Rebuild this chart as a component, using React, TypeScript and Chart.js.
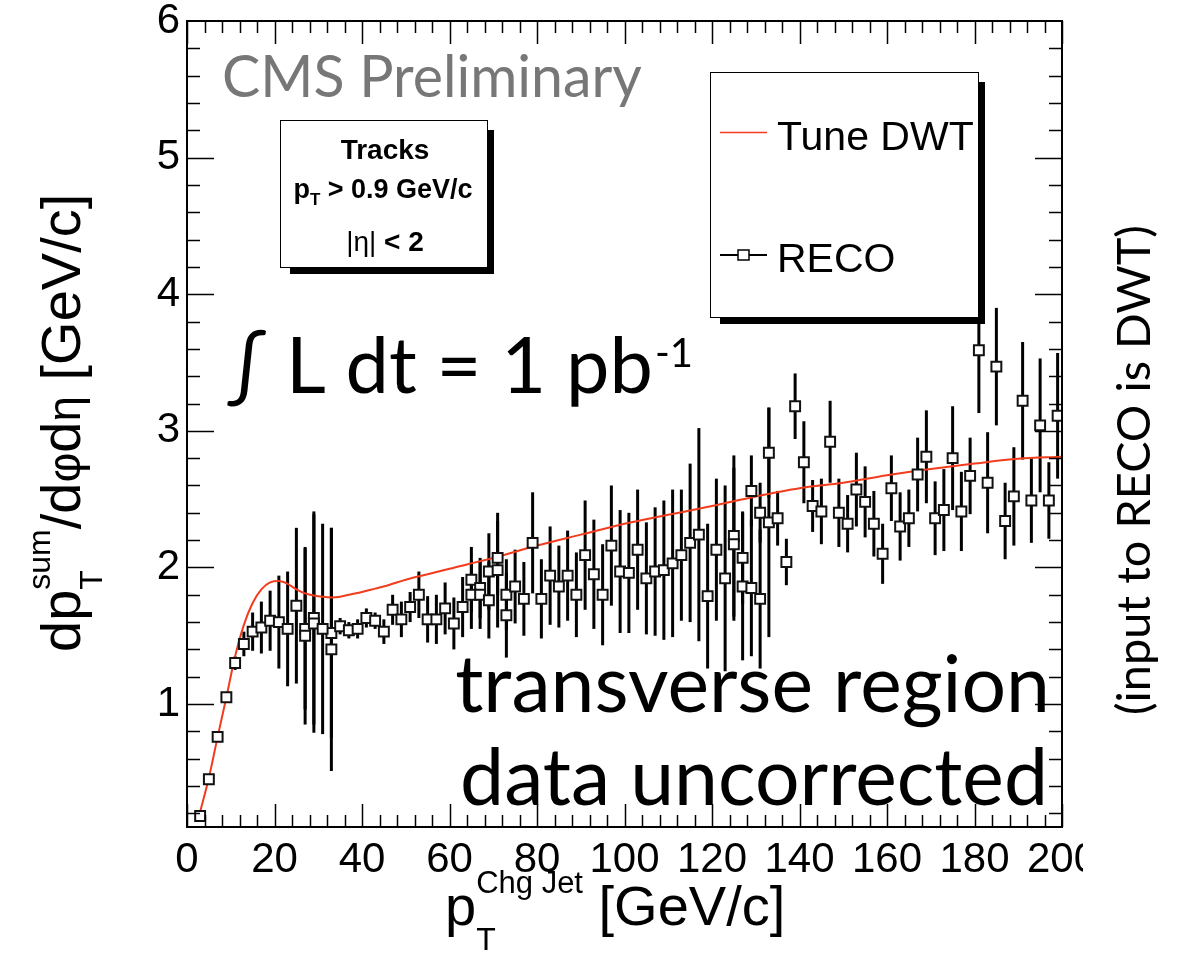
import React, { useEffect, useRef } from "react";
import { Chart, registerables } from "chart.js";

Chart.register(...registerables);

// ---------- data ----------
const X_TICKS = [0, 20, 40, 60, 80, 100, 120, 140, 160, 180, 200];
const Y_TICKS = [1, 2, 3, 4, 5, 6];

const RECO_X = [
  3, 5, 7, 9, 11, 13, 15, 17, 19, 21, 23, 25, 27, 29, 31, 33, 35, 37, 39, 41,
  43, 45, 47, 49, 51, 53, 55, 57, 59, 61, 63, 65, 67, 69, 71, 73, 75, 77, 79, 81,
  83, 85, 87, 89, 91, 93, 95, 97, 99, 101, 103, 105, 107, 109, 111, 113, 115, 117, 119, 121,
  123, 125, 127, 129, 131, 133, 135, 137, 139, 141, 143, 145, 147, 149, 151, 153, 155, 157, 159, 161,
  163, 165, 167, 169, 171, 173, 175, 177, 179, 181, 183, 185, 187, 189, 191, 193, 195, 197, 199,
];
const RECO_Y = [
  0.18, 0.45, 0.76, 1.05, 1.3, 1.44, 1.53, 1.56, 1.61, 1.6, 1.55, 1.72, 1.5, 1.59, 1.55, 1.4, 1.57, 1.54, 1.55, 1.63,
  1.61, 1.53, 1.69, 1.62, 1.71, 1.8, 1.62, 1.62, 1.7, 1.59, 1.71, 1.8, 1.8, 1.76, 1.98, 1.65, 1.86, 1.77, 2.18, 1.77,
  1.94, 1.86, 1.94, 1.8, 2.09, 1.95, 1.8, 2.16, 1.97, 1.96, 2.13, 1.92, 1.97, 1.98, 2.03, 2.09, 2.18, 2.24, 1.79, 2.13,
  1.92, 2.17, 1.86, 1.85, 1.77, 2.33, 2.36, 2.04, 3.18, 2.77, 2.45, 2.41, 2.92, 2.4, 2.32, 2.57, 2.48, 2.32, 2.1, 2.58,
  2.3, 2.36, 2.68, 2.81, 2.36, 2.42, 2.8, 2.41, 2.67, 3.59, 2.62, 3.47, 2.34, 2.52, 3.22, 2.49, 3.04, 2.49, 3.11,
];
const RECO_ERR = [
  0, 0, 0, 0, 0.05, 0.09, 0.14, 0.19, 0.22, 0.34, 0.42, 0.57, 0.65, 0.8, 0.77, 0.89, 0.06, 0.06, 0.07, 0.07,
  0.06, 0.09, 0.11, 0.13, 0.11, 0.17, 0.17, 0.18, 0.19, 0.19, 0.22, 0.25, 0.25, 0.28, 0.42, 0.31, 0.27, 0.27, 0.37, 0.29,
  0.36, 0.3, 0.33, 0.31, 0.4, 0.4, 0.37, 0.44, 0.45, 0.44, 0.44, 0.41, 0.47, 0.51, 0.54, 0.48, 0.58, 0.78, 0.53, 0.52,
  0.68, 0.56, 0.54, 0.5, 0.51, 0.84, 0.2, 0.17, 0.24, 0.3, 0.19, 0.24, 0.3, 0.25, 0.21, 0.27, 0.26, 0.24, 0.22, 0.24,
  0.25, 0.21, 0.27, 0.34, 0.27, 0.3, 0.38, 0.29, 0.28, 0.46, 0.37, 0.43, 0.28, 0.36, 0.43, 0.31, 0.49, 0.28, 0.46,
];

// bins where a second, overlapping RECO marker is visible
const RECO2_X = [27, 29, 33, 65, 67, 69, 71, 73, 125, 127, 129, 131, 133];
const RECO2_Y = [1.55, 1.63, 1.52, 1.91, 1.85, 1.97, 2.07, 1.8, 2.23, 2.07, 2.56, 2.4, 2.84];
const RECO2_ERR = [0.59, 0.78, 0.77, 0.24, 0.22, 0.28, 0.27, 0.26, 0.59, 0.34, 0.26, 0.22, 0.33];

const DWT_X = [
  3, 5, 7, 9, 11, 13, 15, 17, 19, 21, 23, 25, 27, 29, 31, 33, 35, 37, 40, 43,
  46, 50, 55, 60, 70, 80, 90, 100, 110, 120, 130, 140, 150, 160, 170, 180, 190, 200,
];
const DWT_Y = [
  0.21, 0.46, 0.76, 1.05, 1.35, 1.58, 1.74, 1.84, 1.89, 1.9, 1.88, 1.84, 1.81, 1.795, 1.785, 1.78, 1.785, 1.8, 1.82, 1.845,
  1.87, 1.91, 1.95, 1.99, 2.07, 2.16, 2.24, 2.32, 2.385, 2.45, 2.52, 2.58, 2.62, 2.675, 2.72, 2.76, 2.795, 2.81,
];

const ROOT_FONT = '"Liberation Sans", Arial, Helvetica, sans-serif';
const GILL_FONT = 'Lato, "Open Sans", sans-serif';
const RED = "#f23c1e";

type Seg = { text: string; size: number; dy?: number; bold?: boolean; stackWith?: Seg };

function drawRich(ctx: CanvasRenderingContext2D, segs: Seg[], x: number, y: number, family: string) {
  let cx = x;
  for (const s of segs) {
    ctx.font = `${s.bold ? "bold " : ""}${s.size}px ${family}`;
    ctx.fillText(s.text, cx, y + (s.dy || 0));
    let w = ctx.measureText(s.text).width;
    if (s.stackWith) {
      const t = s.stackWith;
      ctx.font = `${t.bold ? "bold " : ""}${t.size}px ${family}`;
      ctx.fillText(t.text, cx, y + (t.dy || 0));
      w = Math.max(w, ctx.measureText(t.text).width);
    }
    cx += w;
  }
  return cx - x;
}

function measureRich(ctx: CanvasRenderingContext2D, segs: Seg[], family: string) {
  let w = 0;
  for (const s of segs) {
    ctx.font = `${s.bold ? "bold " : ""}${s.size}px ${family}`;
    let sw = ctx.measureText(s.text).width;
    if (s.stackWith) {
      const t = s.stackWith;
      ctx.font = `${t.bold ? "bold " : ""}${t.size}px ${family}`;
      sw = Math.max(sw, ctx.measureText(t.text).width);
    }
    w += sw;
  }
  return w;
}

function fitSize(ctx: CanvasRenderingContext2D, text: string, family: string, target: number, weight = "") {
  ctx.font = `${weight} 100px ${family}`;
  const w = ctx.measureText(text).width;
  return (100 * target) / w;
}

function shadowBox(ctx: CanvasRenderingContext2D, x0: number, y0: number, x1: number, y1: number) {
  ctx.fillStyle = "#000";
  ctx.fillRect(x0 + 10, y0 + 10, x1 - x0 - 3, y1 - y0 - 3);
  ctx.fillStyle = "#fff";
  ctx.fillRect(x0, y0, x1 - x0, y1 - y0);
  ctx.strokeStyle = "#000";
  ctx.lineWidth = 1;
  ctx.strokeRect(x0 + 0.5, y0 + 0.5, x1 - x0, y1 - y0);
}

const errorBarPlugin = {
  id: "errorBars",
  beforeDatasetsDraw(chart: any) {
    const { ctx, chartArea: a } = chart;
    const xs = chart.scales.x;
    const ys = chart.scales.y;
    ctx.save();
    ctx.beginPath();
    ctx.rect(a.left, a.top, a.right - a.left, a.bottom - a.top);
    ctx.clip();
    ctx.strokeStyle = "#000";
    ctx.lineWidth = 3;
    const draw = (X: number[], Y: number[], E: number[]) => {
      X.forEach((x, i) => {
        if (!E[i]) return;
        const px = xs.getPixelForValue(x);
        ctx.beginPath();
        ctx.moveTo(px, ys.getPixelForValue(Y[i] - E[i]));
        ctx.lineTo(px, ys.getPixelForValue(Y[i] + E[i]));
        ctx.stroke();
      });
    };
    draw(RECO_X, RECO_Y, RECO_ERR);
    draw(RECO2_X, RECO2_Y, RECO2_ERR);
    ctx.restore();
  },
};

const framePlugin = {
  id: "rootFrame",
  afterDatasetsDraw(chart: any) {
    const { ctx, chartArea: a } = chart;
    const xs = chart.scales.x;
    const ys = chart.scales.y;
    ctx.save();
    ctx.strokeStyle = "#000";
    ctx.lineWidth = 1.5;
    const line = (x0: number, y0: number, x1: number, y1: number) => {
      ctx.beginPath();
      ctx.moveTo(x0, y0);
      ctx.lineTo(x1, y1);
      ctx.stroke();
    };
    // x ticks (major every 20, minor every 4)
    for (let v = 0; v <= 200; v += 4) {
      const px = Math.round(xs.getPixelForValue(v)) + 0.5;
      const len = X_TICKS.includes(v) ? 23 : 12;
      line(px, a.bottom, px, a.bottom - len);
      line(px, a.top, px, a.top + len);
    }
    // y ticks (major every 1, minor every 0.2)
    for (let k = 1; k < 30; k++) {
      const v = k * 0.2;
      const py = Math.round(ys.getPixelForValue(v)) + 0.5;
      const major = Math.abs(v - Math.round(v)) < 1e-6;
      const len = major ? 27 : 13;
      line(a.left, py, a.left + len, py);
      line(a.right, py, a.right - len, py);
    }
    ctx.lineWidth = 2;
    ctx.strokeRect(a.left, a.top, a.right - a.left, a.bottom - a.top);
    ctx.restore();
  },
  afterDraw(chart: any) {
    const ctx: CanvasRenderingContext2D = chart.ctx;
    ctx.save();
    ctx.textAlign = "left";
    ctx.textBaseline = "alphabetic";

    // CMS Preliminary
    ctx.fillStyle = "#777";
    let s = fitSize(ctx, "CMS Preliminary", GILL_FONT, 420);
    ctx.font = `${s}px ${GILL_FONT}`;
    ctx.fillText("CMS Preliminary", 222, 97);

    // integrated luminosity
    ctx.fillStyle = "#000";
    const lum = "\u222B L dt = 1 pb";
    s = fitSize(ctx, lum, GILL_FONT, 426);
    ctx.font = `${s}px ${GILL_FONT}`;
    ctx.fillText(lum, 227, 393);
    const lw = ctx.measureText(lum).width;
    ctx.font = `40px ${GILL_FONT}`;
    ctx.fillText("-1", 227 + lw + 2, 367);

    // region labels
    ctx.textAlign = "right";
    s = fitSize(ctx, "transverse region", GILL_FONT, 595);
    ctx.font = `${s}px ${GILL_FONT}`;
    ctx.fillText("transverse region", 1050, 712);
    s = fitSize(ctx, "data uncorrected", GILL_FONT, 588);
    ctx.font = `${s}px ${GILL_FONT}`;
    ctx.fillText("data uncorrected", 1048, 805);
    ctx.textAlign = "left";

    // info box
    shadowBox(ctx, 280, 120, 487, 267);
    ctx.fillStyle = "#000";
    ctx.textAlign = "center";
    ctx.font = `bold 28px ${ROOT_FONT}`;
    ctx.fillText("Tracks", 385, 159);
    ctx.textAlign = "left";
    const ptSegs: Seg[] = [
      { text: "p", size: 27, bold: true },
      { text: "T", size: 17, dy: 7, bold: true },
      { text: " > 0.9 GeV/c", size: 27, bold: true },
    ];
    const ptw = measureRich(ctx, ptSegs, ROOT_FONT);
    drawRich(ctx, ptSegs, 383 - ptw / 2, 198, ROOT_FONT);
    const etaSegs: Seg[] = [
      { text: "|\u03B7|", size: 28 },
      { text: " < 2", size: 28, bold: true },
    ];
    const etw = measureRich(ctx, etaSegs, ROOT_FONT);
    drawRich(ctx, etaSegs, 385 - etw / 2, 251, ROOT_FONT);

    // legend
    shadowBox(ctx, 710, 72, 978, 317);
    ctx.strokeStyle = RED;
    ctx.lineWidth = 1.5;
    ctx.beginPath();
    ctx.moveTo(720, 132.5);
    ctx.lineTo(767, 132.5);
    ctx.stroke();
    ctx.strokeStyle = "#000";
    ctx.lineWidth = 2;
    ctx.beginPath();
    ctx.moveTo(720, 255);
    ctx.lineTo(767, 255);
    ctx.stroke();
    ctx.fillStyle = "#fff";
    ctx.fillRect(738, 250, 11, 10);
    ctx.lineWidth = 1.5;
    ctx.strokeRect(738, 250, 11, 10);
    ctx.fillStyle = "#000";
    ctx.font = `41px ${ROOT_FONT}`;
    ctx.fillText("Tune DWT", 777, 150);
    ctx.fillText("RECO", 777, 272);

    // x axis title
    drawRich(
      ctx,
      [
        { text: "p", size: 56 },
        { text: "T", size: 32, dy: 25, stackWith: { text: "Chg Jet", size: 31, dy: -32 } },
        { text: " [GeV/c]", size: 56 },
      ],
      445,
      925,
      ROOT_FONT
    );

    // y axis title (rotated)
    ctx.save();
    ctx.translate(80, 652);
    ctx.rotate(-Math.PI / 2);
    drawRich(
      ctx,
      [
        { text: "dp", size: 56 },
        { text: "T", size: 32, dy: 22, stackWith: { text: "sum", size: 32, dy: -30 } },
        { text: "/d", size: 56 },
        { text: "\u03C6", size: 46 },
        { text: "d", size: 56 },
        { text: "\u03B7", size: 46 },
        { text: " [GeV/c]", size: 56 },
      ],
      0,
      0,
      ROOT_FONT
    );
    ctx.restore();

    // slide crop at the right side
    ctx.fillStyle = "#fff";
    ctx.fillRect(1083, 0, 100, 953);
    ctx.fillStyle = "#000";
    ctx.save();
    ctx.translate(1150, 715);
    ctx.rotate(-Math.PI / 2);
    s = fitSize(ctx, "(input to RECO is DWT)", GILL_FONT, 490);
    ctx.font = `${s}px ${GILL_FONT}`;
    ctx.fillText("(input to RECO is DWT)", 0, 0);
    ctx.restore();

    ctx.restore();
  },
};

export default function App() {
  const ref = useRef<HTMLCanvasElement | null>(null);

  useEffect(() => {
    if (!ref.current) return;
    const chart = new Chart(ref.current, {
      type: "scatter",
      data: {
        datasets: [
          {
            label: "RECO",
            data: RECO_X.map((x, i) => ({ x, y: RECO_Y[i] })),
            pointStyle: "rect",
            pointRadius: 7,
            borderWidth: 2,
            borderColor: "#111",
            backgroundColor: "#fff",
            showLine: false,
          },
          {
            label: "RECO (overlap)",
            data: RECO2_X.map((x, i) => ({ x, y: RECO2_Y[i] })),
            pointStyle: "rect",
            pointRadius: 7,
            borderWidth: 2,
            borderColor: "#111",
            backgroundColor: "#fff",
            showLine: false,
          },
          {
            label: "Tune DWT",
            type: "line",
            data: DWT_X.map((x, i) => ({ x, y: DWT_Y[i] })),
            borderColor: RED,
            borderWidth: 2,
            pointRadius: 0,
            fill: false,
            showLine: true,
            cubicInterpolationMode: "monotone",
          } as any,
        ],
      },
      options: {
        animation: false,
        responsive: false,
        devicePixelRatio: 1,
        events: [],
        layout: { padding: { left: 0, top: 21, right: 121, bottom: 0 } },
        plugins: { legend: { display: false }, tooltip: { enabled: false }, title: { display: false } },
        scales: {
          x: {
            type: "linear",
            min: 0,
            max: 200,
            afterBuildTicks: (s: any) => {
              s.ticks = X_TICKS.map((v) => ({ value: v }));
            },
            afterFit: (s: any) => {
              s.height = 126;
              s.paddingLeft = 0;
              s.paddingRight = 0;
            },
            grid: { display: false, drawTicks: false },
            border: { display: false },
            ticks: {
              color: "#000",
              font: { family: ROOT_FONT, size: 42 },
              padding: 8,
              maxRotation: 0,
              autoSkip: false,
            },
          },
          y: {
            type: "linear",
            min: 0.1,
            max: 6,
            afterBuildTicks: (s: any) => {
              s.ticks = Y_TICKS.map((v) => ({ value: v }));
            },
            afterFit: (s: any) => {
              s.width = 187;
              s.paddingTop = 0;
              s.paddingBottom = 0;
            },
            grid: { display: false, drawTicks: false },
            border: { display: false },
            ticks: {
              color: "#000",
              font: { family: ROOT_FONT, size: 42 },
              padding: 7,
              autoSkip: false,
            },
          },
        },
      } as any,
      plugins: [errorBarPlugin, framePlugin],
    });
    return () => chart.destroy();
  }, []);

  return (
    <div style={{ position: "absolute", left: 0, top: 0, width: 1183, height: 953, background: "#fff" }}>
      <canvas ref={ref} width={1183} height={953} style={{ display: "block" }} />
    </div>
  );
}
